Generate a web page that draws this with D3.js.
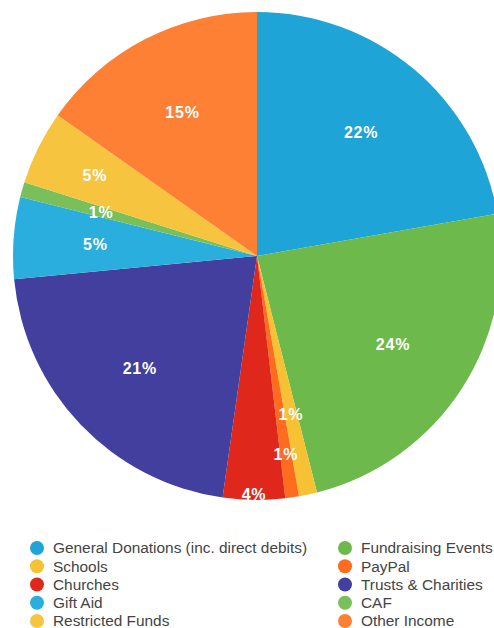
<!DOCTYPE html>
<html>
<head>
<meta charset="utf-8">
<script src="https://cdn.jsdelivr.net/npm/d3@7"></script>
<style>
  body { margin: 0; background: #fff; }
  svg { display: block; }
</style>
</head>
<body>
<script>
// Income breakdown, clockwise from 12 o'clock
const categories = [
  "General Donations (inc. direct debits)", "Fundraising Events", "Schools", "PayPal",
  "Churches", "Trusts & Charities", "Gift Aid", "CAF", "Restricted Funds", "Other Income"
];
const shares = [22.2, 23.8, 1.2, 0.9, 4.1, 21.2, 5.4, 1.0, 4.9, 15.2];
const labels = ["22%", "24%", "1%", "1%", "4%", "21%", "5%", "1%", "5%", "15%"];
const colors = [
  "#1ea4d6", "#6db94b", "#f6c233", "#ff6c1d", "#e0271b",
  "#433f9f", "#2aaedd", "#7ac05a", "#f6c43e", "#fd8034"
];

const W = 494, H = 628;
const cx = 257, cy = 256, radius = 244;

const svg = d3.select("body").append("svg")
  .attr("width", W)
  .attr("height", H);

const data = categories.map((c, i) => ({ name: c, value: shares[i], label: labels[i], color: colors[i] }));

const pie = d3.pie().sort(null).value(d => d.value);
const arcs = pie(data);

const arc = d3.arc().innerRadius(0).outerRadius(radius);

const g = svg.append("g").attr("transform", `translate(${cx},${cy})`);

g.selectAll("path")
  .data(arcs)
  .join("path")
  .attr("fill", d => d.data.color)
  .attr("d", arc);

// labels: start at a fixed radius and push outward while they collide
const labelR = 162, step = 19, padX = 18, padY = 14;
const placed = [];
arcs.forEach(a => {
  const mid = (a.startAngle + a.endAngle) / 2;
  const w = a.data.label.length * 9 + 2, h = 15;
  let r = labelR, x, y;
  for (let k = 0; k < 10; k++) {
    x = Math.sin(mid) * r;
    y = -Math.cos(mid) * r;
    const hit = placed.some(p => Math.abs(p.x - x) < (p.w + w) / 2 + padX && Math.abs(p.y - y) < h + padY);
    if (!hit) break;
    r += step;
  }
  placed.push({ x, y, w, text: a.data.label });
});

g.selectAll("text.pct")
  .data(placed)
  .join("text")
  .attr("class", "pct")
  .attr("x", d => d.x)
  .attr("y", d => d.y)
  .attr("text-anchor", "middle")
  .attr("dy", "0.36em")
  .attr("fill", "#fff")
  .attr("font-family", "Liberation Sans, Arial, sans-serif")
  .attr("font-weight", "bold")
  .attr("font-size", 16)
  .attr("letter-spacing", 0.8)
  .text(d => d.text);

// legend, two columns, filled row by row
const colX = [37, 345], rowY = d3.scaleLinear().domain([0, 4]).range([548, 621]);
const legend = svg.append("g")
  .selectAll("g")
  .data(data)
  .join("g")
  .attr("transform", (d, i) => `translate(${colX[i % 2]},${rowY(Math.floor(i / 2))})`);

legend.append("circle")
  .attr("r", 7)
  .attr("fill", d => d.color);

legend.append("text")
  .attr("x", 16)
  .attr("dy", "0.35em")
  .attr("fill", "#444")
  .attr("font-family", "Liberation Sans, Arial, sans-serif")
  .attr("font-size", 15.4)
  .text(d => d.name);
</script>
</body>
</html>
